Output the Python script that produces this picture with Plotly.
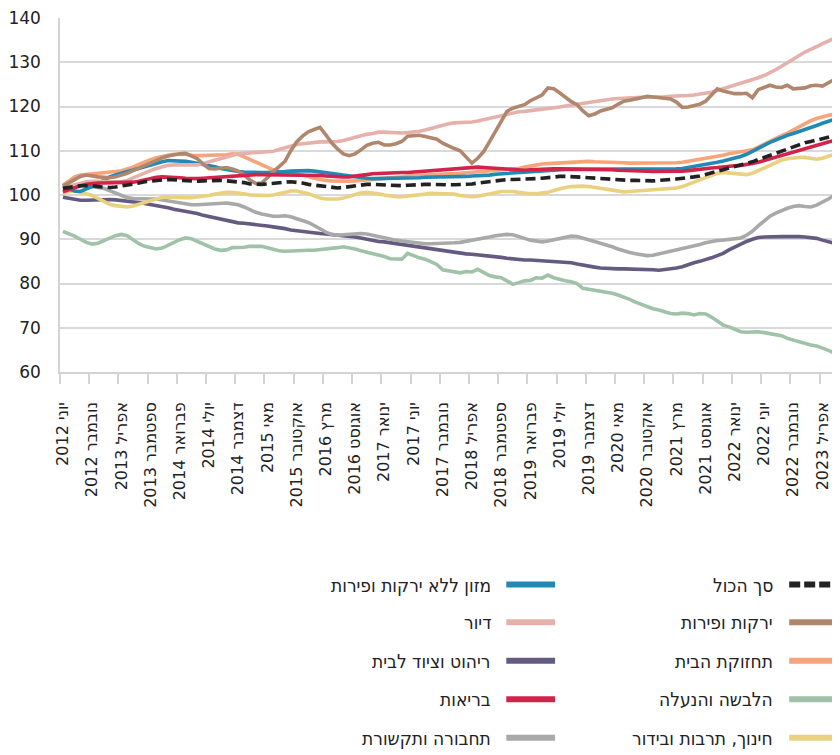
import plotly.graph_objects as go

# ---- x axis: monthly, June 2012 .. July 2023 ----
month_labels = ["2012 יוני", "2012 נובמבר", "2013 אפריל", "2013 ספטמבר", "2014 פברואר",
                "2014 יולי", "2014 דצמבר", "2015 מאי", "2015 אוקטובר", "2016 מרץ",
                "2016 אוגוסט", "2017 ינואר", "2017 יוני", "2017 נובמבר", "2018 אפריל",
                "2018 ספטמבר", "2019 פברואר", "2019 יולי", "2019 דצמבר", "2020 מאי",
                "2020 אוקטובר", "2021 מרץ", "2021 אוגוסט", "2022 ינואר", "2022 יוני",
                "2022 נובמבר", "2023 אפריל"]
label_step = 5
n_months = 134

total = [101.5, 101.6, 101.9, 102.1, 102.2, 102.1, 101.9, 101.7, 101.7, 101.8,
         102.0, 102.1, 102.4, 102.7, 103.0, 103.2, 103.3, 103.4, 103.5, 103.4,
         103.3, 103.2, 103.1, 103.1, 103.2, 103.3, 103.3, 103.3, 103.2, 103.1,
         103.0, 102.8, 102.5, 102.4, 102.4, 102.5, 102.7, 102.8, 102.9, 103.0,
         102.9, 102.7, 102.4, 102.2, 102.0, 101.8, 101.7, 101.6, 101.7, 101.9,
         102.1, 102.3, 102.4, 102.4, 102.3, 102.2, 102.1, 102.1, 102.1, 102.2,
         102.3, 102.3, 102.4, 102.4, 102.3, 102.3, 102.3, 102.3, 102.3, 102.4,
         102.5, 102.7, 102.9, 103.1, 103.3, 103.4, 103.5, 103.5, 103.5, 103.6,
         103.6, 103.7, 103.8, 104.0, 104.1, 104.2, 104.2, 104.2, 104.1, 104.0,
         103.9, 103.8, 103.7, 103.6, 103.6, 103.5, 103.4, 103.3, 103.3, 103.2,
         103.2, 103.2, 103.3, 103.3, 103.5, 103.6, 103.7, 103.9, 104.1, 104.3,
         104.6, 104.9, 105.3, 105.7, 106.1, 106.4, 106.7, 107.0, 107.5, 108.0,
         108.5, 108.9, 109.3, 109.8, 110.3, 110.8, 111.3, 111.8, 112.1, 112.4,
         112.8, 113.1, 113.4, 113.7]

food = [101.9, 101.3, 100.9, 100.8, 101.3, 101.8, 102.5, 103.4, 104.1, 104.5,
        104.9, 105.2, 105.5, 105.9, 106.3, 106.7, 107.1, 107.5, 107.8, 107.8,
        107.7, 107.6, 107.4, 107.2, 107.0, 106.7, 106.4, 106.0, 105.7, 105.5,
        105.3, 105.2, 105.1, 105.1, 105.1, 105.1, 105.1, 105.2, 105.3, 105.4,
        105.5, 105.6, 105.5, 105.4, 105.2, 105.1, 104.9, 104.6, 104.4, 104.2,
        104.0, 103.9, 103.8, 103.7, 103.7, 103.7, 103.7, 103.7, 103.8, 103.9,
        103.9, 103.9, 104.0, 104.0, 104.0, 104.0, 104.0, 104.0, 104.1, 104.2,
        104.3, 104.3, 104.4, 104.5, 104.7, 104.8, 105.0, 105.1, 105.2, 105.3,
        105.4, 105.5, 105.6, 105.6, 105.7, 105.7, 105.8, 105.8, 105.8, 105.8,
        105.8, 105.8, 105.8, 105.7, 105.7, 105.7, 105.7, 105.7, 105.7, 105.8,
        105.8, 105.8, 105.8, 105.8, 105.8, 105.9, 106.0, 106.2, 106.4, 106.6,
        106.8, 107.1, 107.4, 107.7, 108.0, 108.3, 108.7, 109.2, 109.8, 110.5,
        111.2, 111.9, 112.5, 113.0, 113.5, 113.9, 114.3, 114.7, 115.2, 115.7,
        116.2, 116.7, 117.1, 117.5]

veg = [102.0, 102.8, 103.5, 104.2, 104.5, 104.2, 104.1, 104.0, 103.9, 104.1,
       104.4, 104.9, 105.5, 106.1, 106.7, 107.3, 107.9, 108.4, 108.8, 109.1,
       109.3, 109.4, 108.9, 108.2, 107.0, 106.0, 105.9, 106.1, 106.2, 105.9,
       105.4, 104.6, 103.4, 102.6, 102.7, 103.9, 105.3, 106.4, 107.6, 110.0,
       112.0, 113.3, 114.3, 114.8, 115.3, 113.6, 111.8, 110.4, 109.3, 108.9,
       109.3, 110.2, 111.2, 111.7, 111.9, 111.3, 111.3, 111.6, 112.1, 113.3,
       113.5, 113.5, 113.2, 113.0, 112.6, 111.7, 111.0, 110.5, 110.0, 108.6,
       107.2, 108.3, 109.8, 112.0, 114.3, 116.5, 118.9, 119.6, 119.9, 120.4,
       121.3, 121.9, 122.6, 124.2, 124.0, 123.1, 122.0, 121.1, 120.4, 119.0,
       117.9, 118.3, 119.0, 119.4, 119.7, 120.5, 121.2, 121.4, 121.6, 122.0,
       122.3, 122.1, 121.9, 121.8, 121.7, 121.0, 119.8, 119.9, 120.1, 120.5,
       121.2, 122.7, 124.0, 123.5, 123.1, 122.9, 122.9, 123.0, 122.0, 123.8,
       124.3, 124.8, 124.4, 124.3, 124.8, 124.0, 124.1, 124.2, 124.7, 124.8,
       124.6, 125.3, 126.1, 127.6]

housing = [101.6, 102.0, 102.4, 102.7, 103.0, 103.1, 103.2, 103.1, 103.0, 103.0,
           103.0, 103.3, 103.9, 104.5, 105.0, 105.5, 106.0, 106.4, 106.7, 106.8,
           106.8, 106.7, 106.7, 106.8, 107.1, 107.5, 107.9, 108.2, 108.6, 109.0,
           109.3, 109.4, 109.5, 109.5, 109.6, 109.7, 109.9, 110.3, 110.7, 111.0,
           111.4, 111.6, 111.8, 111.9, 112.0, 112.0, 112.0, 112.1, 112.3, 112.7,
           113.1, 113.4, 113.7, 113.9, 114.2, 114.2, 114.1, 114.0, 114.0, 114.1,
           114.2, 114.4, 114.7, 115.1, 115.4, 115.8, 116.1, 116.3, 116.3, 116.4,
           116.5, 116.7, 117.0, 117.3, 117.7, 118.0, 118.3, 118.6, 118.8, 118.9,
           119.1, 119.3, 119.4, 119.5, 119.7, 119.9, 120.1, 120.3, 120.6, 120.8,
           121.0, 121.2, 121.4, 121.6, 121.7, 121.8, 121.9, 122.0, 122.0, 122.1,
           122.1, 122.2, 122.2, 122.2, 122.3, 122.3, 122.4, 122.5, 122.6, 122.8,
           122.9, 123.2, 123.6, 124.0, 124.4, 124.8, 125.1, 125.5, 126.0, 126.5,
           127.0, 127.6, 128.3, 129.1, 129.9, 130.8, 131.6, 132.3, 132.9, 133.5,
           134.1, 134.8, 135.5, 136.1]

maintenance = [102.2, 103.2, 104.1, 104.5, 104.6, 104.7, 104.8, 105.0, 105.1, 105.3,
               105.5, 105.8, 106.3, 106.9, 107.5, 108.0, 108.4, 108.8, 109.0, 109.2,
               109.3, 109.2, 109.0, 108.9, 108.9, 109.0, 109.0, 109.0, 109.1, 109.3,
               109.2, 108.6, 108.0, 107.5, 106.9, 106.3, 105.7, 105.3, 105.0, 104.9,
               104.8, 104.6, 104.2, 103.8, 103.5, 103.3, 103.2, 103.1, 103.1, 103.1,
               103.2, 103.3, 103.4, 103.5, 103.6, 103.7, 103.8, 104.0, 104.1, 104.3,
               104.4, 104.5, 104.6, 104.7, 104.7, 104.8, 104.8, 104.8, 104.9, 105.0,
               105.1, 105.2, 105.3, 105.4, 105.5, 105.6, 105.7, 105.8, 106.0, 106.3,
               106.6, 106.8, 107.0, 107.1, 107.2, 107.3, 107.4, 107.5, 107.6, 107.6,
               107.6, 107.5, 107.5, 107.4, 107.4, 107.3, 107.3, 107.2, 107.2, 107.2,
               107.2, 107.1, 107.1, 107.1, 107.2, 107.3, 107.4, 107.6, 107.8, 108.0,
               108.2, 108.5, 108.8, 109.0, 109.3, 109.5, 109.7, 109.9, 110.2, 110.8,
               111.5, 112.2, 112.8, 113.4, 114.0, 114.7, 115.5, 116.2, 116.8, 117.3,
               117.7, 118.0, 118.2, 118.4]

furniture = [99.5, 99.2, 98.9, 98.8, 98.8, 98.9, 98.9, 99.0, 99.0, 98.9,
             98.8, 98.7, 98.5, 98.3, 98.1, 97.9, 97.7, 97.4, 97.1, 96.8,
             96.6, 96.4, 96.2, 95.8, 95.4, 95.1, 94.8, 94.5, 94.2, 93.9,
             93.7, 93.6, 93.5, 93.4, 93.2, 93.0, 92.8, 92.7, 92.4, 92.1,
             91.9, 91.7, 91.5, 91.4, 91.3, 91.2, 91.1, 91.0, 90.9, 90.7,
             90.5, 90.3, 90.0, 89.7, 89.5, 89.4, 89.2, 89.0, 88.9, 88.7,
             88.5, 88.3, 88.1, 87.9, 87.6, 87.4, 87.1, 86.9, 86.8, 86.7,
             86.6, 86.5, 86.4, 86.2, 86.0, 85.9, 85.7, 85.5, 85.4, 85.3,
             85.3, 85.2, 85.2, 85.1, 85.1, 85.0, 84.9, 84.7, 84.4, 84.1,
             83.9, 83.7, 83.5, 83.4, 83.3, 83.3, 83.3, 83.3, 83.3, 83.2,
             83.2, 83.1, 83.0, 83.1, 83.3, 83.5, 83.8, 84.3, 84.7, 85.0,
             85.3, 85.8, 86.3, 86.8, 87.6, 88.3, 88.9, 89.5, 90.0, 90.4,
             90.5, 90.6, 90.6, 90.6, 90.6, 90.7, 90.6, 90.5, 90.4, 90.2,
             89.8, 89.5, 89.1, 88.6]

clothing = [91.8, 91.3, 90.7, 90.0, 89.3, 88.9, 89.1, 89.7, 90.3, 90.8,
            91.1, 90.8, 89.9, 89.0, 88.4, 88.0, 87.8, 88.0, 88.6, 89.4,
            89.9, 90.3, 90.1, 89.5, 88.9, 88.4, 87.8, 87.5, 87.6, 88.1,
            88.1, 88.2, 88.4, 88.5, 88.4, 88.1, 87.7, 87.4, 87.3, 87.4,
            87.3, 87.4, 87.5, 87.5, 87.6, 87.8, 88.0, 88.1, 88.3, 88.1,
            87.8, 87.4, 87.1, 86.9, 86.6, 86.1, 85.6, 85.5, 85.5, 86.8,
            86.2, 85.8, 85.5, 84.8, 84.3, 83.1, 82.8, 82.7, 82.4, 82.7,
            82.6, 83.2, 82.5, 81.8, 81.5, 81.3, 80.6, 79.8, 80.2, 80.6,
            80.7, 81.3, 81.2, 81.9, 81.3, 80.9, 80.6, 80.4, 80.0, 78.9,
            78.7, 78.6, 78.4, 78.2, 77.8, 77.4, 77.0, 76.4, 75.8, 75.3,
            74.6, 74.3, 74.0, 73.6, 73.2, 73.1, 73.3, 73.2, 72.9, 73.2,
            73.1, 72.4, 71.4, 70.6, 70.2, 69.7, 69.1, 69.0, 69.1, 69.1,
            68.9, 68.7, 68.6, 68.2, 67.6, 67.2, 66.9, 66.5, 66.1, 65.9,
            65.5, 64.9, 64.3, 63.7]

health = [100.7, 101.2, 101.7, 102.1, 102.4, 102.6, 102.7, 102.7, 102.7, 102.7,
          102.8, 102.8, 102.9, 103.1, 103.4, 103.8, 104.0, 104.1, 104.1, 104.0,
          103.9, 103.8, 103.7, 103.7, 103.8, 103.9, 104.0, 104.1, 104.2, 104.3,
          104.4, 104.5, 104.5, 104.6, 104.6, 104.6, 104.6, 104.6, 104.6, 104.6,
          104.6, 104.6, 104.5, 104.5, 104.4, 104.3, 104.2, 104.1, 104.1, 104.1,
          104.2, 104.4, 104.6, 104.8, 104.9, 105.0, 105.0, 105.0, 105.1, 105.1,
          105.2, 105.3, 105.5, 105.7, 105.8, 105.9, 106.0, 106.0, 106.1, 106.2,
          106.3, 106.3, 106.2, 106.1, 106.0, 105.9, 105.8, 105.7, 105.6, 105.6,
          105.7, 105.8, 105.9, 105.9, 105.9, 105.9, 105.9, 105.9, 105.9, 105.9,
          105.9, 105.8, 105.8, 105.7, 105.7, 105.6, 105.6, 105.5, 105.5, 105.4,
          105.4, 105.3, 105.3, 105.2, 105.2, 105.3, 105.4, 105.5, 105.7, 105.8,
          105.9, 106.1, 106.2, 106.4, 106.5, 106.6, 106.7, 106.8, 107.1, 107.4,
          107.8, 108.2, 108.5, 108.9, 109.3, 109.7, 110.1, 110.5, 110.9, 111.3,
          111.7, 112.0, 112.3, 112.6]

education = [100.4, 100.8, 100.9, 100.7, 100.3, 99.9, 99.3, 98.5, 97.9, 97.6,
             97.4, 97.3, 97.5, 97.9, 98.4, 98.9, 99.3, 99.5, 99.5, 99.4,
             99.4, 99.4, 99.4, 99.5, 99.7, 99.9, 100.2, 100.5, 100.6, 100.6,
             100.5, 100.3, 100.0, 99.9, 99.9, 99.9, 100.0, 100.3, 100.7, 100.9,
             100.9, 100.7, 100.3, 99.8, 99.3, 99.1, 99.0, 99.1, 99.3, 99.7,
             100.2, 100.5, 100.6, 100.5, 100.3, 100.0, 99.7, 99.6, 99.6, 99.7,
             99.8, 100.0, 100.2, 100.4, 100.4, 100.4, 100.4, 100.2, 99.9, 99.7,
             99.6, 99.7, 99.9, 100.2, 100.5, 100.8, 100.9, 100.8, 100.6, 100.4,
             100.3, 100.3, 100.4, 100.6, 101.0, 101.4, 101.7, 101.9, 102.0, 102.0,
             101.9, 101.7, 101.4, 101.1, 100.9, 100.8, 100.7, 100.8, 100.9, 101.0,
             101.1, 101.2, 101.3, 101.4, 101.5, 101.6, 101.9, 102.4, 102.9, 103.5,
             104.0, 104.5, 104.9, 105.1, 105.0, 104.8, 104.6, 104.6, 104.9, 105.5,
             106.1, 106.8, 107.4, 107.9, 108.2, 108.4, 108.5, 108.5, 108.3, 108.1,
             108.3, 108.7, 109.1, 109.6]

transport = [101.9, 102.1, 102.2, 102.2, 102.1, 101.9, 101.7, 101.5, 101.0, 100.4,
             99.8, 99.4, 99.2, 99.1, 99.1, 99.1, 99.1, 98.9, 98.7, 98.5,
             98.2, 97.9, 97.8, 97.8, 97.9, 98.0, 98.2, 98.3, 98.2, 98.0,
             97.8, 97.3, 96.6, 96.1, 95.7, 95.4, 95.2, 95.2, 95.3, 95.1,
             94.7, 94.3, 93.8, 93.1, 92.3, 91.6, 91.1, 90.9, 91.0, 91.1,
             91.2, 91.3, 91.2, 90.9, 90.5, 90.2, 90.0, 89.8, 89.6, 89.4,
             89.3, 89.1, 89.0, 89.0, 89.0, 89.0, 89.1, 89.2, 89.3, 89.5,
             89.7, 89.9, 90.2, 90.5, 90.8, 91.0, 91.1, 91.0, 90.7, 90.2,
             89.8, 89.5, 89.4, 89.6, 89.9, 90.3, 90.6, 90.7, 90.6, 90.3,
             89.9, 89.5, 89.1, 88.8, 88.3, 87.8, 87.3, 87.0, 86.7, 86.5,
             86.3, 86.4, 86.7, 86.9, 87.1, 87.4, 87.7, 88.1, 88.5, 88.8,
             89.2, 89.5, 89.7, 89.8, 90.0, 90.1, 90.3, 90.9, 91.8, 93.0,
             94.1, 95.2, 95.9, 96.5, 97.0, 97.4, 97.6, 97.4, 97.3, 97.7,
             98.3, 99.1, 99.9, 100.7]

series_names = ["סך הכול", "מזון ללא ירקות ופירות", "ירקות ופירות", "דיור",
                "תחזוקת הבית", "ריהוט וציוד לבית", "הלבשה והנעלה", "בריאות",
                "חינוך, תרבות ובידור", "תחבורה ותקשורת"]
series_values = [total, food, veg, housing, maintenance, furniture, clothing,
                 health, education, transport]
series_colors = ["#222222", "#2189b5", "#b0866d", "#e6b0ab", "#f7a47b",
                 "#655b80", "#a0c2a8", "#d2234b", "#ead17f", "#a9a9a9"]
series_dash = ["10px,5px"] + ["solid"] * 9
draw_order = [6, 5, 9, 8, 4, 1, 3, 2, 7, 0]

for s in series_values:
    assert len(s) == n_months, len(s)

x = list(range(n_months))
fig = go.Figure()
for k in draw_order:
    fig.add_trace(go.Scatter(
        x=x, y=series_values[k], mode="lines", name=series_names[k],
        line=dict(color=series_colors[k], width=3.6, dash=series_dash[k]),
        showlegend=False, hoverinfo="skip"))

# Page body adds an 8px offset; the figure is sized to fit inside the window.
OFF = 8
W, H = 840 - OFF, 755 - OFF
ML, MT = 57 - OFF, 14 - OFF
MR = 0
MB = H - (372 - OFF)
pw, ph = W - ML - MR, H - MT - MB


def px_x(px):
    return (px - OFF - ML) / pw


def px_y(py):
    return (H - MB - (py - OFF)) / ph


# ---- manual RTL legend (two columns, symbol at the right of each text) ----
legend_cols = [[0, 2, 4, 6, 8], [1, 3, 5, 7, 9]]
col_marker = [(789, 840), (505, 554)]
col_text_right = [775, 492]
row_y = [587, 625, 664, 703, 742]
for c, col in enumerate(legend_cols):
    for r, k in enumerate(col):
        x0, x1 = col_marker[c]
        fig.add_shape(type="line", xref="paper", yref="paper",
                      x0=px_x(x0), x1=px_x(x1), y0=px_y(row_y[r]), y1=px_y(row_y[r]),
                      line=dict(color=series_colors[k], width=6,
                                dash="11px,4px" if k == 0 else "solid"))
        fig.add_annotation(xref="paper", yref="paper", x=px_x(col_text_right[c]),
                           y=px_y(row_y[r]), text=series_names[k], showarrow=False,
                           xanchor="right", yanchor="middle",
                           font=dict(family="DejaVu Sans Condensed, DejaVu Sans, sans-serif",
                                     size=19, color="#222222"))

tickvals = [i * label_step for i in range(len(month_labels))]
minor_ticks = [v - 0.5 for v in tickvals]

fig.update_layout(
    width=W, height=H,
    margin=dict(l=ML, r=MR, t=MT, b=MB),
    paper_bgcolor="white", plot_bgcolor="white",
    showlegend=False,
    xaxis=dict(
        range=[-0.5, n_months - 1], tickmode="array", tickvals=tickvals,
        ticktext=month_labels, tickangle=-90, ticks="", showgrid=False,
        zeroline=False, showline=True, linecolor="#d3d3d3", linewidth=1.5,
        tickfont=dict(family="DejaVu Sans", size=16, color="#222222"),
        ticklabelstandoff=22,
        minor=dict(tickmode="array", tickvals=minor_ticks, ticks="outside",
                   ticklen=10, tickwidth=1.5, tickcolor="#d3d3d3", showgrid=False),
    ),
    yaxis=dict(
        range=[60, 140], tickmode="linear", tick0=60, dtick=10,
        showgrid=True, gridcolor="#d9d9d9", gridwidth=1.5, zeroline=False,
        showline=True, linecolor="#d3d3d3", linewidth=1.5, ticks="",
        tickfont=dict(family="DejaVu Sans", size=17, color="#222222"),
        ticklabelstandoff=14, ticklabeloverflow="allow",
    ),
)

fig.write_html("out.html")
